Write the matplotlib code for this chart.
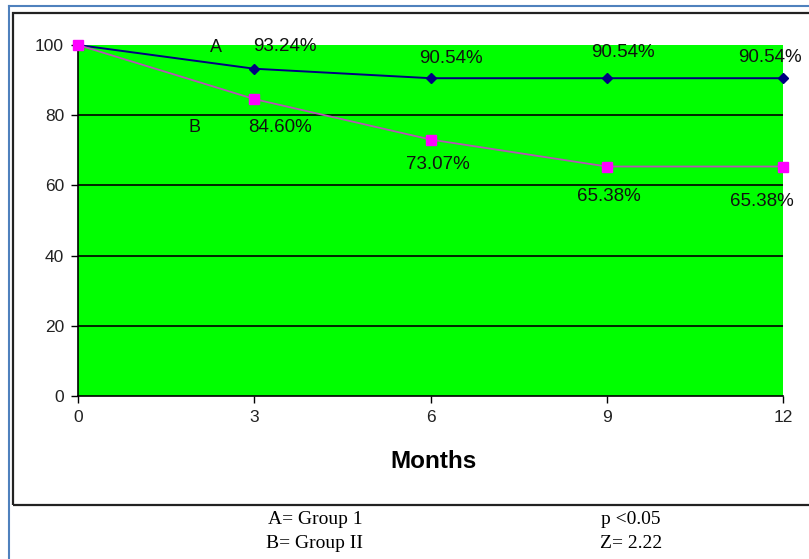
import matplotlib
matplotlib.use("Agg")
import matplotlib.pyplot as plt
from matplotlib.lines import Line2D
from matplotlib.patches import Rectangle

months = [0, 3, 6, 9, 12]
group_a = [100, 93.24, 90.54, 90.54, 90.54]
group_b = [100, 84.60, 73.07, 65.38, 65.38]
labels_a = ['93.24%', '90.54%', '90.54%', '90.54%']
labels_b = ['84.60%', '73.07%', '65.38%', '65.38%']

W, H = 809, 559
fig = plt.figure(figsize=(W / 100, H / 100), dpi=100)
fig.patch.set_facecolor('white')

# outer frames (pixels -> figure fraction)
def fx(px):
    return px / W

def fy(py):
    return 1 - py / H

fig.add_artist(Line2D([fx(9), fx(9)], [fy(6), fy(559)], color='#4f81bd', lw=1.5))
fig.add_artist(Line2D([fx(9), fx(809)], [fy(6), fy(6)], color='#4f81bd', lw=1.5))
fig.add_artist(Rectangle((fx(13), fy(505)), fx(820) - fx(13), fy(13) - fy(505),
                         fill=False, edgecolor='#222222', lw=1.6))

ax = fig.add_axes([fx(78), fy(396), fx(783) - fx(78), fy(45) - fy(396)])
ax.set_facecolor('#00ff00')
ax.set_xlim(0, 12)
ax.set_ylim(0, 100)
ax.set_xticks(months)
ax.set_yticks([0, 20, 40, 60, 80, 100])
for v in [20, 40, 60, 80]:
    ax.axhline(v, color='black', lw=1.2, zorder=1)
for s in ['top', 'right']:
    ax.spines[s].set_visible(False)
for s in ['left', 'bottom']:
    ax.spines[s].set_color('black')
    ax.spines[s].set_linewidth(1.2)
ax.tick_params(direction='out', length=5, width=1, colors='black',
               labelsize=12.5, pad=5)
for t in ax.get_xticklabels() + ax.get_yticklabels():
    t.set_fontfamily('Liberation Sans')
    t.set_color('#222222')

ax.plot(months, group_a, color='#000080', lw=1.4, marker='D', markersize=5,
        markerfacecolor='#000080', markeredgecolor='#000080', clip_on=False, zorder=3)
ax.plot(months, group_b, color='#b455b4', lw=1.3, marker='s', markersize=7,
        markerfacecolor='#ff00ff', markeredgecolor='#ff00ff', clip_on=False, zorder=4)

off_a = [(31, 22), (20, 20), (16, 26), (-13, 21)]
off_b = [(26, -28), (7, -25), (2, -30), (-21, -35)]
for i in range(4):
    ax.annotate(labels_a[i], (months[i + 1], group_a[i + 1]), xytext=off_a[i],
                textcoords='offset pixels', ha='center', va='center',
                fontsize=13.5, family='Liberation Sans', color='#111111',
                annotation_clip=False)
    ax.annotate(labels_b[i], (months[i + 1], group_b[i + 1]), xytext=off_b[i],
                textcoords='offset pixels', ha='center', va='center',
                fontsize=13.5, family='Liberation Sans', color='#111111',
                annotation_clip=False)

ax.text(2.35, 99.4, 'A', ha='center', va='center', fontsize=13,
        family='Liberation Sans', color='#111111')
ax.text(1.99, 76.6, 'B', ha='center', va='center', fontsize=13,
        family='Liberation Sans', color='#111111')

fig.text(fx(434), fy(462), 'Months', ha='center', va='center', fontsize=17.5,
         fontweight='bold', family='Liberation Sans')

fig.text(fx(315), fy(520), 'A= Group 1', ha='center', va='center', fontsize=14,
         family='Liberation Serif')
fig.text(fx(315), fy(543), 'B= Group II', ha='center', va='center', fontsize=14,
         family='Liberation Serif')
fig.text(fx(631), fy(520), 'p <0.05', ha='center', va='center', fontsize=14,
         family='Liberation Serif')
fig.text(fx(631), fy(543), 'Z= 2.22', ha='center', va='center', fontsize=14,
         family='Liberation Serif')

fig.savefig('out.png', dpi=100)
